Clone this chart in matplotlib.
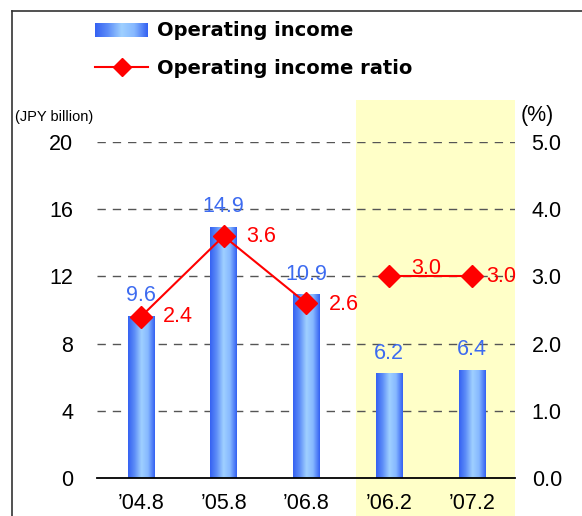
import matplotlib
matplotlib.use('Agg')
import matplotlib.pyplot as plt
import numpy as np
from matplotlib.colors import LinearSegmentedColormap
from matplotlib.patches import Rectangle
from matplotlib.lines import Line2D

categories = ["\u201904.8", "\u201905.8", "\u201906.8", "\u201906.2", "\u201907.2"]
income = [9.6, 14.9, 10.9, 6.2, 6.4]
ratio = [2.4, 3.6, 2.6, 3.0, 3.0]
ratio_groups = [[0, 1, 2], [3, 4]]
left_ticks = [0, 4, 8, 12, 16, 20]
right_ticks = [0.0, 1.0, 2.0, 3.0, 4.0, 5.0]
highlight_start = 2.6

W, H = 582, 516
num_font = ['Liberation Sans', 'DejaVu Sans']
BLUE_TXT = '#3d6bf0'
RED = '#ff0000'
NUM_FS = 15.5

fig = plt.figure(figsize=(W / 100, H / 100), dpi=100)
fig.patch.set_facecolor('white')
ax = fig.add_axes([97 / W, 1 - 478 / H, (515 - 97) / W, (478 - 142) / H])
ax.patch.set_alpha(0)
ax2 = ax.twinx()

x = np.arange(len(categories))
xlim = (-0.53, 4.52)

# highlight band
band = Rectangle((highlight_start, -2.3), xlim[1] - highlight_start, 24.8,
                 facecolor='#ffffc8', edgecolor='none', clip_on=False, zorder=0)
ax.add_patch(band)

# grid
for t in left_ticks[1:]:
    ax.axhline(t, color='#555555', lw=1.0, ls=(0, (6, 5)), zorder=1)

# gradient bars
cmap = LinearSegmentedColormap.from_list('bargrad', ['#3562f2', '#5f8ff8', '#9fd0ff', '#86b8ff', '#3562f2'])
grad = np.linspace(0, 1, 64).reshape(1, -1)
bars = ax.bar(x, income, width=0.32, facecolor='none', edgecolor='none', zorder=2)
for b in bars:
    ax.imshow(grad, extent=(b.get_x(), b.get_x() + b.get_width(), 0, b.get_height()),
              aspect='auto', cmap=cmap, zorder=2, interpolation='bilinear')

for xi, v in zip(x, income):
    ax.annotate(f"{v:.1f}", (xi, v), xytext=(0, 15), textcoords='offset points',
                ha='center', va='center', color=BLUE_TXT, fontsize=NUM_FS, family=num_font, zorder=5)

ax.set_xlim(*xlim)
ax.set_ylim(0, 20)
ax.set_yticks(left_ticks)
ax.set_xticks(x)
ax.set_xticklabels(categories)
for s in ['left', 'right', 'top']:
    ax.spines[s].set_visible(False)
ax.spines['bottom'].set_color('black')
ax.spines['bottom'].set_linewidth(1.3)
ax.spines['bottom'].set_zorder(3)
ax.tick_params(axis='both', length=0, labelsize=NUM_FS)
ax.tick_params(axis='y', pad=17)
ax.tick_params(axis='x', pad=11)
for lab in ax.get_xticklabels() + ax.get_yticklabels():
    lab.set_family(num_font)

# ratio line
for g in ratio_groups:
    ax2.plot([x[i] for i in g], [ratio[i] for i in g], color=RED, lw=1.5,
             marker='D', markersize=11.5, markerfacecolor=RED, markeredgecolor=RED, zorder=4)
offsets = [(27, 0), (27, 0), (27, -1), (27, 6), (21, 0)]
for xi, r, off in zip(x, ratio, offsets):
    ax2.annotate(f"{r:.1f}", (xi, r), xytext=off, textcoords='offset points',
                 ha='center', va='center', color=RED, fontsize=NUM_FS, family=num_font, zorder=5)
ax2.set_ylim(0, 5)
ax2.set_yticks(right_ticks)
ax2.set_yticklabels([f"{t:.1f}" for t in right_ticks])
for s in ['left', 'right', 'top', 'bottom']:
    ax2.spines[s].set_visible(False)
ax2.tick_params(axis='y', length=0, labelsize=NUM_FS, pad=12)
for lab in ax2.get_yticklabels():
    lab.set_family(num_font)
ax.set_xlim(*xlim)

# axis unit labels
fig.text(15 / W, 1 - 117 / H, "(JPY billion)", fontsize=10.5, family=num_font, va='center', ha='left')
fig.text(521 / W, 1 - 116 / H, "(%)", fontsize=15.5, family=num_font, va='center', ha='left')

# legend
lax = fig.add_axes([95 / W, 1 - 37 / H, 53 / W, 14 / H])
lax.imshow(grad, aspect='auto', cmap=cmap, interpolation='bilinear')
lax.axis('off')
fig.add_artist(Line2D([95 / W, 148 / W], [1 - 67 / H, 1 - 67 / H], color=RED, lw=1.5))
fig.add_artist(Line2D([121.5 / W], [1 - 67 / H], color=RED, marker='D', markersize=9.5,
                      markerfacecolor=RED, markeredgecolor=RED))
fig.text(157 / W, 1 - 31 / H, "Operating income", fontsize=14, fontweight='bold', va='center', ha='left')
fig.text(157 / W, 1 - 68 / H, "Operating income ratio", fontsize=14, fontweight='bold', va='center', ha='left')

# frame
fig.add_artist(Line2D([12 / W, 12 / W], [0, 1 - 11 / H], color='#333333', lw=1.2))
fig.add_artist(Line2D([12 / W, 1], [1 - 11 / H, 1 - 11 / H], color='#333333', lw=1.2))

fig.savefig('out.png', dpi=100)
